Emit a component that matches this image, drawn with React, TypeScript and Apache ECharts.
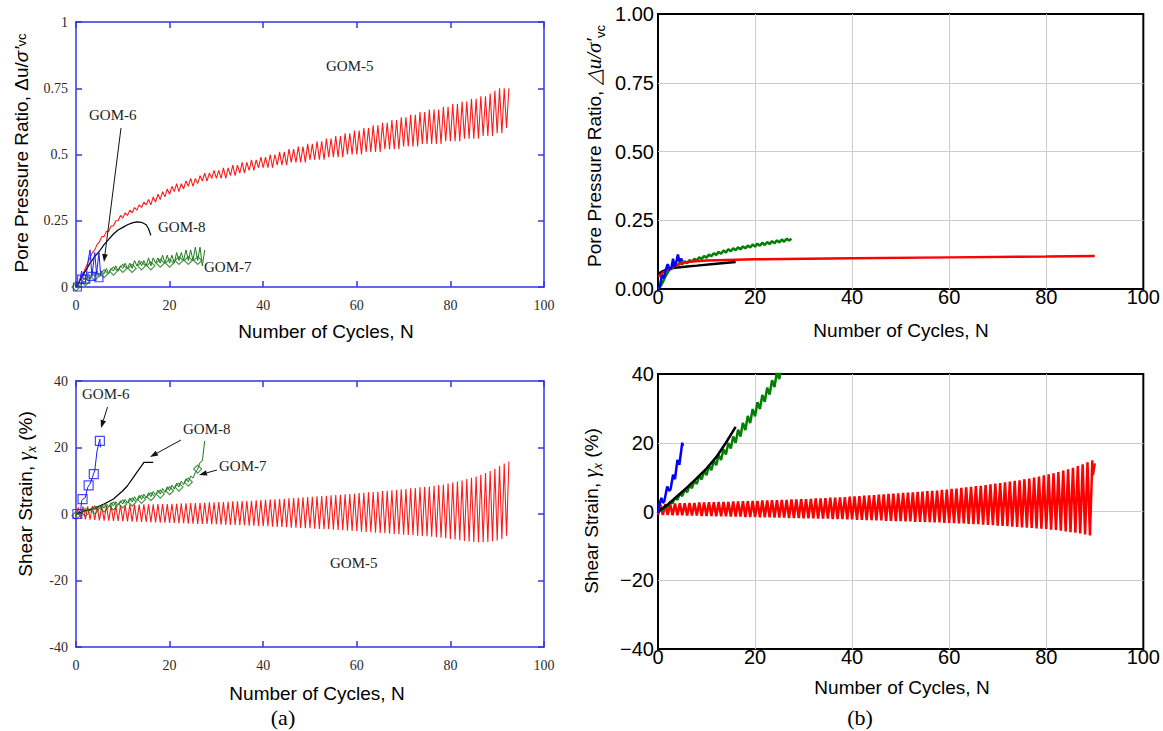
import React, { useEffect, useRef } from "react";
import * as echarts from "echarts";

// ================= Panel (a), top: pore pressure ratio (hundredths), one value per cycle =================
const aPP5Peak = [
  1, 5, 9, 13, 16, 19, 21, 23, 25, 27,
  28, 29, 30, 31, 32, 33, 34, 35, 36, 37,
  38, 39, 39, 40, 41, 41, 42, 43, 43, 44,
  44, 45, 45, 46, 46, 47, 47, 48, 48, 49,
  49, 50, 50, 51, 51, 52, 52, 53, 53, 54,
  54, 55, 55, 56, 56, 57, 57, 58, 58, 59,
  59, 60, 60, 61, 61, 62, 62, 63, 63, 64,
  64, 65, 65, 66, 66, 67, 67, 67, 68, 68,
  69, 69, 70, 70, 71, 71, 72, 72, 73, 74,
  75, 75, 75,
];
const aPP5Trough = [
  0, 3, 7, 11, 14, 17, 19, 21, 23, 25,
  26, 27, 28, 29, 30, 31, 31, 32, 33, 34,
  35, 36, 36, 37, 38, 38, 39, 40, 40, 41,
  41, 41, 41, 42, 42, 43, 43, 44, 44, 45,
  45, 45, 45, 46, 46, 46, 47, 47, 47, 47,
  48, 48, 48, 48, 49, 49, 49, 49, 50, 50,
  50, 50, 51, 51, 51, 51, 52, 52, 52, 52,
  53, 53, 53, 53, 54, 54, 54, 54, 54, 55,
  55, 55, 55, 56, 56, 56, 56, 57, 57, 57,
  58, 58, 60,
];
const aPP7Peak = [0, 2, 4, 5, 6, 6, 7, 7, 8, 8, 9, 9, 10, 10, 10, 11, 11, 11, 12, 12, 12, 13, 13, 14, 14, 15, 15, 14];
const aPP7Trough = [0, 1, 2, 3, 4, 4, 5, 5, 6, 6, 7, 7, 7, 8, 8, 8, 8, 9, 9, 9, 9, 9, 10, 10, 10, 10, 10, 8];
const aPP8N = [0, 1, 2, 3, 4, 5, 6, 7, 8, 9, 10, 11, 12, 13, 14, 15, 15.5, 16];
const aPP8V = [0, 0.03, 0.06, 0.09, 0.115, 0.135, 0.16, 0.18, 0.2, 0.215, 0.225, 0.235, 0.242, 0.246, 0.244, 0.235, 0.22, 0.195];
const aPP6N = [0, 0.6, 1.2, 1.6, 2.1, 2.6, 3.0, 3.4, 4.0, 4.4, 4.9, 5.3];
const aPP6V = [0, 0.01, 0.06, 0.03, 0.03, 0.1, 0.14, 0.04, 0.13, 0.05, 0.13, 0.04];
const aPP6MarkN = [0.3, 1.2, 2.1, 3.4, 4.9];
const aPP6MarkV = [0, 0.03, 0.03, 0.04, 0.035];

// ================= Panel (a), bottom: shear strain (%) =================
const aSS5Peak = [
  2.0, 2.2, 2.3, 2.4, 2.4, 2.5, 2.5, 2.6, 2.6, 2.7,
  2.7, 2.8, 2.8, 2.8, 2.9, 2.9, 2.9, 3.0, 3.0, 3.0,
  3.1, 3.1, 3.2, 3.2, 3.3, 3.3, 3.4, 3.4, 3.5, 3.5,
  3.6, 3.6, 3.7, 3.8, 3.8, 3.9, 4.0, 4.0, 4.1, 4.2,
  4.3, 4.4, 4.4, 4.5, 4.6, 4.7, 4.8, 4.9, 5.0, 5.1,
  5.2, 5.3, 5.4, 5.5, 5.6, 5.7, 5.8, 5.9, 6.0, 6.1,
  6.3, 6.4, 6.5, 6.6, 6.7, 6.9, 7.0, 7.1, 7.2, 7.4,
  7.5, 7.7, 7.8, 8.0, 8.1, 8.3, 8.5, 8.7, 8.9, 9.2,
  9.5, 9.8, 10.1, 10.5, 10.9, 11.3, 11.8, 12.3, 12.9, 13.6,
  14.4, 15.2, 15.8,
];
const aSS5Trough = [
  -1.2, -1.4, -1.6, -1.7, -1.8, -1.9, -2.0, -2.0, -2.1, -2.1,
  -2.2, -2.2, -2.3, -2.3, -2.4, -2.4, -2.5, -2.5, -2.6, -2.6,
  -2.7, -2.7, -2.8, -2.8, -2.9, -2.9, -3.0, -3.0, -3.0, -3.1,
  -3.1, -3.2, -3.2, -3.3, -3.3, -3.4, -3.4, -3.5, -3.5, -3.6,
  -3.7, -3.7, -3.8, -3.9, -3.9, -4.0, -4.1, -4.1, -4.2, -4.3,
  -4.3, -4.4, -4.5, -4.6, -4.6, -4.7, -4.8, -4.9, -5.0, -5.1,
  -5.2, -5.3, -5.4, -5.5, -5.6, -5.7, -5.8, -5.9, -6.0, -6.1,
  -6.2, -6.3, -6.4, -6.5, -6.6, -6.7, -6.8, -7.0, -7.1, -7.3,
  -7.5, -7.7, -7.9, -8.1, -8.3, -8.4, -8.5, -8.5, -8.4, -8.2,
  -8.0, -7.5, -6.5,
];
const aSS7Peak = [0.5, 1, 1.5, 2, 2.4, 2.8, 3.1, 3.4, 3.7, 4.0, 4.4, 4.8, 5.2, 5.6, 6.0, 6.4, 6.8, 7.2, 7.7, 8.2, 8.7, 9.3, 9.9, 10.6, 11.4, 12.5, 15.5, 22];
const aSS7Trough = [-0.5, 0, 0.5, 0.9, 1.2, 1.5, 1.8, 2.1, 2.4, 2.7, 3.0, 3.3, 3.6, 4.0, 4.4, 4.8, 5.2, 5.6, 6.0, 6.5, 7.0, 7.5, 8.1, 8.8, 9.6, 10.8, 13.5, 16];
const aSS8N = [0, 2, 4, 6, 8, 10, 11, 12, 13, 14, 14.5, 16.5];
const aSS8V = [0, 1, 1.8, 3, 4.5, 7, 8.5, 10.5, 12.5, 14.5, 15.5, 15.5];
const aSS6N = [0, 0.5, 1, 1.2, 1.5, 2, 2.5, 2.8, 3, 3.5, 3.8, 4, 4.5, 5, 5.1, 5.2];
const aSS6V = [0, 0.5, 1, 4, 4.5, 5, 8, 8.7, 9, 11, 12.3, 13, 19, 22, 22.5, 20];
const aSS6MarkN = [0.3, 1.4, 2.7, 3.8, 5.1];
const aSS6MarkV = [0, 4.5, 8.6, 12, 22];

// ================= Panel (b), top: pore pressure ratio =================
const bPP5N = [0, 0.5, 1, 2, 3, 4, 5, 7, 10, 20, 40, 60, 80, 90];
const bPP5V = [0.045, 0.05, 0.06, 0.07, 0.08, 0.088, 0.095, 0.1, 0.104, 0.108, 0.112, 0.115, 0.118, 0.12];
// thousandths, one value per cycle
const bPP7Peak = [10, 45, 75, 88, 96, 101, 105, 110, 115, 120, 125, 130, 135, 140, 145, 148, 152, 155, 158, 162, 165, 168, 171, 174, 177, 180, 183, 183];
const bPP7Trough = [0, 25, 60, 75, 84, 90, 94, 99, 104, 109, 114, 119, 124, 128, 133, 137, 141, 144, 148, 151, 154, 157, 160, 163, 166, 169, 172, 176];
const bPP6N = [0, 0.4, 0.8, 1.2, 1.6, 2.0, 2.4, 2.8, 3.1, 3.4, 3.8, 4.1, 4.4, 4.8, 5.0];
const bPP6V = [0, 0.01, 0.05, 0.04, 0.07, 0.09, 0.07, 0.08, 0.11, 0.08, 0.1, 0.125, 0.1, 0.11, 0.1];
const bPP8N = [0, 0.5, 1, 2, 3, 5, 8, 12, 16];
const bPP8V = [0.055, 0.06, 0.065, 0.072, 0.076, 0.08, 0.085, 0.092, 0.098];

// ================= Panel (b), bottom: shear strain (%) =================
const bSS5Peak = [
  2.0, 2.2, 2.3, 2.3, 2.4, 2.4, 2.5, 2.5, 2.6, 2.6,
  2.7, 2.7, 2.8, 2.8, 2.8, 2.9, 2.9, 3.0, 3.0, 3.1,
  3.1, 3.2, 3.2, 3.3, 3.3, 3.4, 3.4, 3.5, 3.5, 3.6,
  3.6, 3.7, 3.8, 3.8, 3.9, 4.0, 4.0, 4.1, 4.2, 4.3,
  4.4, 4.5, 4.6, 4.7, 4.8, 4.9, 5.0, 5.1, 5.2, 5.3,
  5.4, 5.5, 5.6, 5.7, 5.8, 5.9, 6.0, 6.1, 6.3, 6.4,
  6.6, 6.7, 6.9, 7.0, 7.2, 7.4, 7.5, 7.7, 7.9, 8.1,
  8.3, 8.5, 8.7, 8.9, 9.1, 9.4, 9.6, 9.9, 10.2, 10.5,
  10.8, 11.1, 11.5, 11.9, 12.3, 12.7, 13.2, 13.7, 14.3, 14.9,
];
const bSS5Trough = [
  -1.0, -1.0, -1.0, -1.1, -1.1, -1.1, -1.2, -1.2, -1.2, -1.3,
  -1.3, -1.3, -1.4, -1.4, -1.4, -1.5, -1.5, -1.5, -1.6, -1.6,
  -1.6, -1.7, -1.7, -1.7, -1.8, -1.8, -1.8, -1.9, -1.9, -1.9,
  -2.0, -2.0, -2.0, -2.1, -2.1, -2.1, -2.2, -2.2, -2.2, -2.3,
  -2.3, -2.4, -2.4, -2.5, -2.5, -2.6, -2.6, -2.7, -2.7, -2.8,
  -2.8, -2.9, -2.9, -3.0, -3.0, -3.1, -3.1, -3.2, -3.2, -3.3,
  -3.3, -3.4, -3.5, -3.5, -3.6, -3.7, -3.7, -3.8, -3.9, -4.0,
  -4.1, -4.2, -4.3, -4.4, -4.5, -4.6, -4.7, -4.8, -4.9, -5.0,
  -5.1, -5.3, -5.4, -5.6, -5.8, -6.0, -6.2, -6.4, -6.7, -7.0,
];
const bSS5EndN = [89.6, 90];
const bSS5EndV = [10.5, 14];
const bSS7Peak = [0.5, 1.5, 2.8, 4.0, 5.2, 6.4, 7.7, 9.0, 10.4, 11.8, 13.3, 14.8, 16.4, 18.1, 19.9, 21.8, 23.8, 25.8, 27.8, 29.8, 31.8, 33.9, 36.0, 38.2, 40.5, 43];
const bSS7Trough = [-0.5, 0.5, 1.4, 2.4, 3.4, 4.5, 5.6, 6.8, 8.0, 9.3, 10.6, 12.0, 13.5, 15.0, 16.6, 18.3, 20.0, 21.8, 23.7, 25.7, 27.7, 29.8, 31.9, 34.0, 36.2, 38.5];
const bSS8N = [0, 2, 4, 6, 8, 10, 12, 14, 16];
const bSS8V = [0, 2, 4.5, 7, 9.7, 12.5, 15.8, 20, 24.6];
const bSS6N = [0, 0.3, 0.7, 1.0, 1.3, 1.9, 2.3, 2.6, 3.1, 3.5, 4.0, 4.4, 5.0, 5.1];
const bSS6V = [-0.5, 2, 4, 2.5, 3, 7.3, 6, 6.5, 10.7, 9.4, 15, 13.6, 20, 19];

// tick settings
const nTicks = { min: 0, max: 100, interval: 20 };
const ppTicks = { min: 0, max: 1, interval: 0.25 };
const ssTicks = { min: -40, max: 40, interval: 20 };

// ================= helpers =================
const FRAME_A = "#3434e8";
const SERIF = "'Liberation Serif','Times New Roman',serif";
const SANS = "'Liberation Sans',Arial,Helvetica,sans-serif";

function zigzag(peak: number[], trough: number[], k: number) {
  const pts: number[][] = [];
  for (let i = 0; i < peak.length; i++) {
    pts.push([i, trough[i] * k]);
    pts.push([i + 0.5, peak[i] * k]);
  }
  return pts;
}
function pairs(xs: number[], ys: number[]) {
  return xs.map((x, i) => [x, ys[i]]);
}
function everyOther(pts: number[][]) {
  return pts.filter((_, i) => i % 4 === 0);
}

function aX(grid: number, pos: string, labels: boolean) {
  return {
    type: "value", gridIndex: grid, position: pos, ...nTicks,
    axisLine: { show: true, onZero: false, lineStyle: { color: FRAME_A, width: 1.5 } },
    axisTick: { show: true, inside: true, length: 6, lineStyle: { color: FRAME_A, width: 1.5 } },
    axisLabel: { show: labels, fontFamily: SERIF, fontSize: 14, color: "#2a2a2a", margin: 11 },
    splitLine: { show: false },
  };
}
function aY(grid: number, pos: string, ticks: any, labels: boolean) {
  return {
    type: "value", gridIndex: grid, position: pos, ...ticks,
    axisLine: { show: true, onZero: false, lineStyle: { color: FRAME_A, width: 1.5 } },
    axisTick: { show: true, inside: true, length: 6, lineStyle: { color: FRAME_A, width: 1.5 } },
    axisLabel: { show: labels, fontFamily: SERIF, fontSize: 14, color: "#2a2a2a", margin: 8 },
    splitLine: { show: false },
  };
}
const bSplit = { show: true, showMinLine: false, showMaxLine: false, lineStyle: { color: "#cccccc", width: 1 } };
function bX(grid: number) {
  return {
    type: "value", gridIndex: grid, ...nTicks,
    axisLine: { show: false, onZero: false }, axisTick: { show: false },
    axisLabel: { fontFamily: SANS, fontSize: 20, color: "#000", margin: -2 },
    splitLine: bSplit,
  };
}
function bY(grid: number, ticks: any, fmt: (v: number) => string) {
  return {
    type: "value", gridIndex: grid, ...ticks,
    axisLine: { show: false, onZero: false }, axisTick: { show: false },
    axisLabel: { fontFamily: SANS, fontSize: 20, color: "#000", margin: 4, formatter: fmt },
    splitLine: bSplit,
  };
}

function line(data: number[][], xi: number, color: string, width: number, z = 2) {
  return {
    type: "line", data, xAxisIndex: xi, yAxisIndex: xi, showSymbol: false, symbol: "none",
    lineStyle: { color, width }, itemStyle: { color }, z, silent: true, clip: true,
  };
}
function marks(data: number[][], xi: number, symbol: string, size: number, color: string) {
  return {
    type: "scatter", data, xAxisIndex: xi, yAxisIndex: xi, symbol, symbolSize: size,
    itemStyle: { color: "rgba(255,255,255,0)", borderColor: color, borderWidth: 1.2 }, z: 4, silent: true,
  };
}

function arrow(x1: number, y1: number, x2: number, y2: number) {
  const ang = Math.atan2(y2 - y1, x2 - x1);
  const L = 8, W = 2.8;
  const bx = x2 - L * Math.cos(ang), by = y2 - L * Math.sin(ang);
  const px = -Math.sin(ang) * W, py = Math.cos(ang) * W;
  return [
    { type: "line", shape: { x1, y1, x2: bx, y2: by }, style: { stroke: "#111", lineWidth: 1 }, z: 10 },
    { type: "polygon", shape: { points: [[x2, y2], [bx + px, by + py], [bx - px, by - py]] }, style: { fill: "#111" }, z: 10 },
  ];
}
function gom(x: number, y: number, text: string) {
  return {
    type: "text", x, y, z: 10,
    style: { text, fontFamily: SERIF, fontSize: 15, fill: "#222", align: "left", verticalAlign: "middle", textAlign: "left", textVerticalAlign: "middle" },
  };
}
function title(x: number, y: number, text: string, size = 19, family = SANS) {
  return {
    type: "text", x, y, z: 10,
    style: { text, fontFamily: family, fontSize: size, fill: "#000", align: "center", verticalAlign: "middle", textAlign: "center", textVerticalAlign: "middle" },
  };
}
function vtitle(x: number, y: number, text: string, rich: any) {
  return {
    type: "text", x, y, rotation: Math.PI / 2, z: 10,
    style: { text, rich, fill: "#000", align: "center", verticalAlign: "middle", textAlign: "center", textVerticalAlign: "middle" },
  };
}

const richA = {
  m: { fontFamily: SANS, fontSize: 19, lineHeight: 26, verticalAlign: "middle", fill: "#000" },
  i: { fontFamily: SANS, fontStyle: "italic", fontSize: 19, lineHeight: 26, verticalAlign: "middle", fill: "#000" },
  g: { fontFamily: SERIF, fontStyle: "italic", fontSize: 21, lineHeight: 26, verticalAlign: "middle", fill: "#000" },
  s: { fontFamily: SANS, fontSize: 13, lineHeight: 13, verticalAlign: "bottom", fill: "#000" },
  si: { fontFamily: SERIF, fontStyle: "italic", fontSize: 14, lineHeight: 14, verticalAlign: "bottom", fill: "#000" },
  sm: { fontFamily: SANS, fontSize: 13, lineHeight: 26, verticalAlign: "middle", fill: "#000" },
};

export default function App() {
  const ref = useRef<HTMLDivElement>(null);
  useEffect(() => {
    if (!ref.current) return;
    const chart = echarts.init(ref.current, undefined, { renderer: "svg" });
    const minus = (v: number) => (v < 0 ? "\u2212" + String(-v) : String(v));
    const option: any = {
      animation: false,
      backgroundColor: "#ffffff",
      grid: [
        { left: 76, top: 22, width: 468, height: 265 },
        { left: 76, top: 381, width: 468, height: 266 },
        { left: 658, top: 14, width: 488, height: 275, show: true, borderColor: "#000", borderWidth: 2, backgroundColor: "rgba(0,0,0,0)" },
        { left: 658, top: 374, width: 488, height: 275, show: true, borderColor: "#000", borderWidth: 2, backgroundColor: "rgba(0,0,0,0)" },
      ],
      xAxis: [aX(0, "bottom", true), aX(0, "top", false), aX(1, "bottom", true), aX(1, "top", false), bX(2), bX(3)],
      yAxis: [
        aY(0, "left", ppTicks, true), aY(0, "right", ppTicks, false),
        aY(1, "left", ssTicks, true), aY(1, "right", ssTicks, false),
        bY(2, ppTicks, (v: number) => v.toFixed(2)), bY(3, ssTicks, minus),
      ],
      series: [
        // (a) top
        line(zigzag(aPP5Peak, aPP5Trough, 0.01), 0, "#ff1a1a", 1.1),
        line(pairs(aPP8N, aPP8V), 0, "#000000", 1.2),
        line(zigzag(aPP7Peak, aPP7Trough, 0.01), 0, "#1d7a1d", 1),
        marks(everyOther(zigzag(aPP7Peak, aPP7Trough, 0.01)), 0, "diamond", 8, "#1d7a1d"),
        line(pairs(aPP6N, aPP6V), 0, "#1a1aff", 1),
        marks(pairs(aPP6MarkN, aPP6MarkV), 0, "rect", 8, "#1a1aff"),
        // (a) bottom (axis index 2)
        line(zigzag(aSS5Peak, aSS5Trough, 1), 2, "#ff1a1a", 1.1),
        line(pairs(aSS8N, aSS8V), 2, "#000000", 1.2),
        line(zigzag(aSS7Peak, aSS7Trough, 1), 2, "#1d7a1d", 1),
        marks(everyOther(zigzag(aSS7Peak, aSS7Trough, 1)), 2, "diamond", 8, "#1d7a1d"),
        line(pairs(aSS6N, aSS6V), 2, "#1a1aff", 1),
        marks(pairs(aSS6MarkN, aSS6MarkV), 2, "rect", 9, "#1a1aff"),
        // (b) top (axis index 4)
        line(pairs(bPP8N, bPP8V), 4, "#000000", 2.5),
        line(zigzag(bPP7Peak, bPP7Trough, 0.001), 4, "#008000", 2.5),
        line(pairs(bPP5N, bPP5V), 4, "#ff0000", 2.5),
        line(pairs(bPP6N, bPP6V), 4, "#0000ff", 2.5),
        // (b) bottom (axis index 5)
        line(zigzag(bSS5Peak, bSS5Trough, 1), 5, "#ff0000", 2.5),
        line(pairs(bSS5EndN, bSS5EndV), 5, "#ff0000", 2.5),
        line(zigzag(bSS7Peak, bSS7Trough, 1), 5, "#008000", 2.5),
        line(pairs(bSS8N, bSS8V), 5, "#000000", 2.5),
        line(pairs(bSS6N, bSS6V), 5, "#0000ff", 2.5),
      ],
      graphic: [
        // (a) top annotations
        gom(326, 66, "GOM-5"),
        gom(89, 115, "GOM-6"),
        gom(158, 227, "GOM-8"),
        gom(204, 267, "GOM-7"),
        ...arrow(121, 128, 104, 262),
        // (a) bottom annotations
        gom(82, 394, "GOM-6"),
        gom(183, 429, "GOM-8"),
        gom(219, 466, "GOM-7"),
        gom(330, 563, "GOM-5"),
        ...arrow(107.5, 407, 101, 428),
        ...arrow(181, 440, 150, 457),
        ...arrow(217, 470, 199, 475),
        // axis titles
        vtitle(21, 153, "{m|Pore Pressure Ratio, Δu/}{i|σ’}{sm|vc}", richA),
        vtitle(25, 494, "{m|Shear Strain, }{g|γ}{si|x}{m| (%)}", richA),
        vtitle(594, 146, "{m|Pore Pressure Ratio, }{g|△u/σ′}{s|vc}", richA),
        vtitle(591, 511, "{m|Shear Strain, }{g|γ}{si|x}{m| (%)}", richA),
        title(326, 331, "Number of Cycles, N"),
        title(317, 693, "Number of Cycles, N"),
        title(901, 330, "Number of Cycles, N"),
        title(902, 687, "Number of Cycles, N"),
        title(283, 717, "(a)", 22, SERIF),
        title(860, 717, "(b)", 22, SERIF),
      ],
    };
    chart.setOption(option);
    return () => chart.dispose();
  }, []);
  return (
    <div
      ref={ref}
      style={{ position: "absolute", left: 0, top: 0, width: 1163, height: 731, background: "#fff" }}
    />
  );
}
